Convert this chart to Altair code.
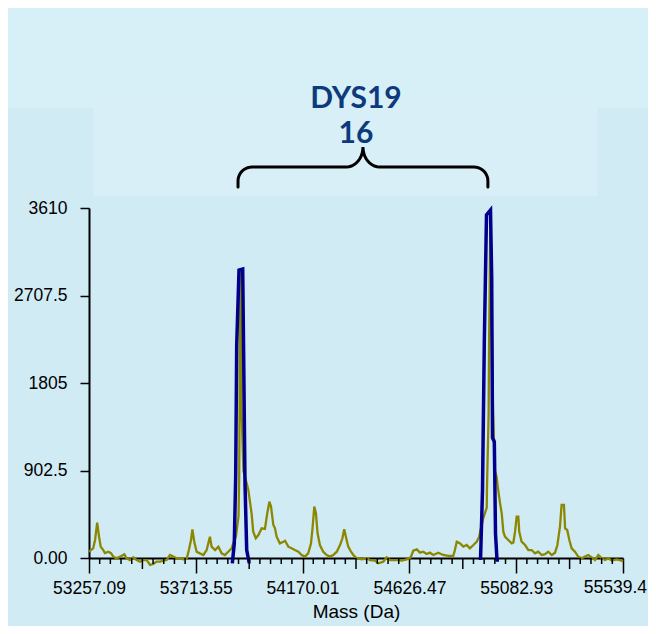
import math
import altair as alt
import pandas as pd

# ---------------- data ----------------
x_major = [53257.09, 53713.55, 54170.01, 54626.47, 55082.93, 55539.4]
y_ticks = [0, 902.5, 1805, 2707.5, 3610]

olive_mass = [
    53257, 53275, 53283, 53292, 53300, 53307, 53318, 53325, 53340, 53351,
    53361, 53375, 53390, 53408, 53418, 53432, 53446, 53461, 53475, 53489,
    53504, 53518, 53532, 53546, 53561, 53575, 53589, 53603, 53617, 53632,
    53646, 53660, 53675, 53684, 53693, 53699, 53707, 53717, 53731, 53746,
    53760, 53774, 53781, 53796, 53810, 53824, 53838, 53852, 53867, 53874,
    53885, 53896, 53899, 53904, 53908, 53909, 53917, 53931, 53938, 53945,
    53952, 53959, 53970, 53981, 53995, 54009, 54019, 54028, 54035, 54045,
    54052, 54059, 54073, 54088, 54095, 54109, 54123, 54137, 54152, 54166,
    54180, 54194, 54206, 54213, 54220, 54227, 54234, 54244, 54258, 54273,
    54287, 54301, 54316, 54330, 54340, 54348, 54355, 54365, 54377, 54387,
    54401, 54423, 54444, 54458, 54479, 54494, 54515, 54529, 54544, 54572,
    54594, 54615, 54632, 54643, 54658, 54672, 54686, 54700, 54714, 54729,
    54750, 54771, 54793, 54814, 54821, 54829, 54843, 54857, 54871, 54885,
    54900, 54914, 54925, 54931, 54941, 54957, 54958, 54965, 54967, 54973,
    54975, 54984, 54992, 54999, 55006, 55014, 55021, 55028, 55035, 55049,
    55064, 55071, 55078, 55085, 55092, 55096, 55106, 55121, 55135, 55149,
    55163, 55177, 55192, 55206, 55220, 55235, 55249, 55259, 55270, 55277,
    55287, 55292, 55301, 55310, 55320, 55334, 55348, 55363, 55377, 55391,
    55406, 55420, 55434, 55449, 55463, 55477, 55491, 55512, 55534, 55539,
]
olive_int = [
    65, 100, 186, 364, 220, 117, 82, 50, 65, 50,
    14, -4, 14, 38, -4, -21, 7, -21, -38, -21,
    -21, -72, -62, -38, -38, -27, -21, 31, 14, -4,
    -4, -14, -4, 82, 186, 296, 168, 65, 48, 31,
    82, 220, 117, 82, 117, 48, 31, 65, 100, 155,
    220, 430, 840, 2980, 2020, 1530, 900, 770, 701, 581,
    461, 271, 203, 237, 306, 300, 461, 581, 530, 340,
    306, 220, 151, 168, 178, 117, 100, 82, 65, 31,
    14, 48, 151, 323, 530, 461, 255, 134, 65, 31,
    14, 31, 65, 134, 203, 296, 220, 117, 65, 31,
    -3, -14, -3, -21, -27, -55, -38, 7, -21, -21,
    -27, -14, 7, 75, 89, 55, 65, 41, 55, 31,
    55, 31, 21, 21, 82, 168, 151, 117, 134, 100,
    134, 168, 220, 296, 400, 520, 720, 1475, 2200, 3590,
    3000, 1500, 900, 839, 701, 564, 461, 271, 220, 186,
    151, 160, 271, 426, 426, 271, 168, 134, 82, 82,
    48, 65, 31, 40, 65, 31, 55, 134, 323, 547,
    547, 306, 289, 186, 100, 65, 14, -3, 14, 31,
    7, -21, 31, -3, -21, -3, -27, -14, -27, -38,
]

blue1_mass = [53869.6, 53878.1, 53884.1, 53888.4, 53898.2, 53914.0, 53918.3,
              53923.8, 53931.1, 53940.9, 53948.2]
blue1_int = [-55, 151, 856, 2197, 2970, 2981, 2042, 770, 82, -38, -38]
blue2_mass = [54930.4, 54938.9, 54946.6, 54956.0, 54973.1, 54978.2, 54981.7,
              54989.4, 54994.5, 55000.9, 55009.4]
blue2_int = [-20, 700, 2220, 3540, 3590, 2890, 1240, 1200, 250, -20, -20]

marker_name = "DYS19"
marker_allele = "16"
x_title = "Mass (Da)"

# ---------------- tables ----------------
olive_df = pd.DataFrame({"mass": olive_mass, "intensity": olive_int,
                         "i": range(len(olive_mass))})
blue_df = pd.DataFrame({
    "mass": blue1_mass + blue2_mass,
    "intensity": blue1_int + blue2_int,
    "peak": ["p1"] * len(blue1_mass) + ["p2"] * len(blue2_mass),
    "i": list(range(len(blue1_mass))) + list(range(len(blue2_mass))),
})

# minor / middle tick positions (10 subdivisions between labelled ticks)
minor_ticks, mid_ticks = [], []
for a, b in zip(x_major[:-1], x_major[1:]):
    for k in range(1, 10):
        v = a + (b - a) * k / 10
        (mid_ticks if k == 5 else minor_ticks).append(v)
minor_df = pd.DataFrame({"mass": minor_ticks})
mid_df = pd.DataFrame({"mass": mid_ticks})
last_df = pd.DataFrame({"mass": [x_major[-1]], "lab": [repr(x_major[-1])]})

# brace annotation spanning the two allele peaks
L, R = 53894, 54962
M = (L + R) / 2
base, line, top = 3827, 4033, 4239
rx, ry, rx2, ry2 = 60, 144, 71, 206
pts = [(L, base)]
n = 10
for j in range(n + 1):
    t = math.pi - (math.pi / 2) * j / n
    pts.append((L + rx + rx * math.cos(t), line - ry + ry * math.sin(t)))
for j in range(n + 1):
    t = -math.pi / 2 + (math.pi / 2) * j / n
    pts.append((M - rx2 + rx2 * math.cos(t), top + ry2 * math.sin(t)))
for j in range(n + 1):
    t = math.pi + (math.pi / 2) * j / n
    pts.append((M + rx2 + rx2 * math.cos(t), top + ry2 * math.sin(t)))
for j in range(n + 1):
    t = math.pi / 2 - (math.pi / 2) * j / n
    pts.append((R - rx + rx * math.cos(t), line - ry + ry * math.sin(t)))
pts.append((R, base))
brace_df = pd.DataFrame({"mass": [p[0] for p in pts],
                         "intensity": [p[1] for p in pts],
                         "i": range(len(pts))})

# ---------------- chart ----------------
W, H = 534, 350
FONT = "Liberation Sans"
LABEL_SIZE = 17.5
x_scale = alt.Scale(domain=[x_major[0], x_major[-1]], nice=False, zero=False)
y_scale = alt.Scale(domain=[0, 3610], nice=False, zero=False)

x_axis = alt.Axis(
    values=x_major,
    title=x_title,
    grid=False,
    labelExpr=f"datum.value == {x_major[-1]!r} ? '' : '' + datum.value",
    labelOverlap=False,
    labelFlush=False,
    labelBound=False,
    tickSize=15,
    labelPadding=6,
    titlePadding=6,
    labelFont=FONT, labelFontSize=LABEL_SIZE,
    titleFont=FONT, titleFontSize=19, titleFontWeight="normal",
)
y_axis = alt.Axis(
    values=y_ticks,
    title=None,
    grid=False,
    labelExpr="datum.value == 0 ? '0.00' : '' + datum.value",
    tickSize=9,
    labelPadding=13,
    labelOverlap=False,
    labelFont=FONT, labelFontSize=LABEL_SIZE,
)

one = pd.DataFrame({"a": [0]})
top_band = alt.Chart(one).mark_rect(color="#D7EFF7").encode(
    x=alt.value(-89), x2=alt.value(567), y=alt.value(-208), y2=alt.value(-100))
box = alt.Chart(one).mark_rect(color="#D8EFF7").encode(
    x=alt.value(4), x2=alt.value(508), y=alt.value(-111), y2=alt.value(-12))

olive = alt.Chart(olive_df).mark_line(color="#8C8700", strokeWidth=2.3, clip=False).encode(
    x=alt.X("mass:Q", scale=x_scale, axis=x_axis),
    y=alt.Y("intensity:Q", scale=y_scale, axis=y_axis),
    order="i:Q",
)
blue = alt.Chart(blue_df).mark_line(color="#00008C", strokeWidth=3.5, clip=False).encode(
    x="mass:Q", y="intensity:Q", detail="peak:N", order="i:Q")
brace = alt.Chart(brace_df).mark_line(color="black", strokeWidth=3, clip=False,
                                      strokeCap="round").encode(
    x="mass:Q", y="intensity:Q", order="i:Q")

minor = alt.Chart(minor_df).mark_rule(color="black", strokeWidth=1.5).encode(
    x="mass:Q", y=alt.value(H), y2=alt.value(H + 6))
mid = alt.Chart(mid_df).mark_rule(color="black", strokeWidth=1.5).encode(
    x="mass:Q", y=alt.value(H), y2=alt.value(H + 11))
last_label = alt.Chart(last_df).mark_text(
    align="right", baseline="top", dx=24, font=FONT, fontSize=LABEL_SIZE,
    color="black").encode(x="mass:Q", y=alt.value(H + 21), text="lab:N")

t1 = alt.Chart(one).mark_text(text=marker_name, font="Lato", fontWeight="bold",
                              fontSize=30, color="#0D3A7D", align="center",
                              baseline="middle").encode(
    x=alt.value(267), y=alt.value(-109))
t2 = alt.Chart(one).mark_text(text=marker_allele, font="Lato", fontWeight="bold",
                              fontSize=30, color="#0D3A7D", align="center",
                              baseline="middle").encode(
    x=alt.value(267), y=alt.value(-74))

chart = alt.layer(top_band, box, olive, blue, minor, mid, last_label, brace, t1, t2).properties(
    width=W, height=H,
    autosize=alt.AutoSizeParams(type="none"),
    padding={"left": 81, "top": 200, "right": 25, "bottom": 68},
).configure(
    background="#D0EBF4",
).configure_view(
    stroke=None,
).configure_axis(
    domainColor="black", domainWidth=2, tickColor="black", tickWidth=1.5,
    labelColor="black", titleColor="black",
    labelFont=FONT, labelFontSize=LABEL_SIZE,
)

chart.save("out.html", embed_options={"renderer": "svg", "actions": False})
